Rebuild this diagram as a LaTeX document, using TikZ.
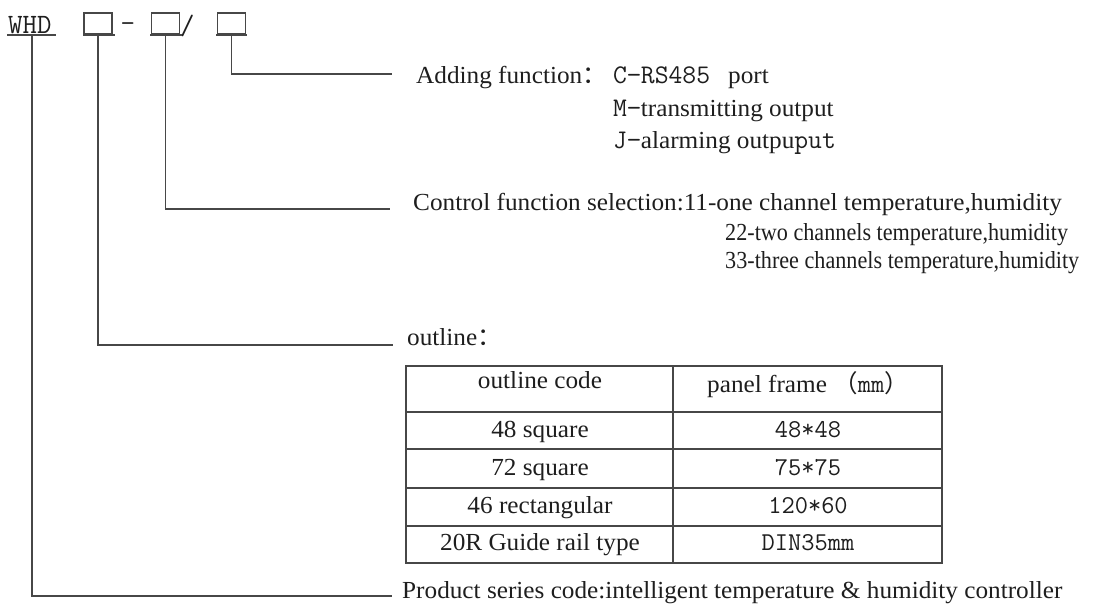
\documentclass[tikz,border=0pt]{standalone}
\usepackage{fontspec}
\setmainfont{Liberation Serif}[FakeStretch=1.03]
\newfontfamily\narrow{Liberation Serif}[FakeStretch=0.905]
\newfontfamily\mono{Latin Modern Mono}
\newfontfamily\cjk{Noto Sans CJK SC}
\definecolor{ink}{HTML}{1E1E1E}
\definecolor{wire}{HTML}{474747}
\begin{document}
\begin{tikzpicture}[x=1pt,y=-1pt,
  txt/.style={anchor=base west,inner sep=0pt,text=ink,font=\fontsize{24.5}{29}\selectfont},
  ntxt/.style={anchor=base west,inner sep=0pt,text=ink,font=\narrow\fontsize{24.5}{29}\selectfont},
  ctxt/.style={anchor=base,inner sep=0pt,text=ink,font=\fontsize{24.5}{29}\selectfont},
  mtxt/.style={anchor=base,inner sep=0pt,text=ink,font=\mono\fontsize{25.7}{29}\selectfont},
  codebox/.style={draw=wire,line width=1.2pt,minimum width=28pt,minimum height=20.5pt,inner sep=0pt},
  wireline/.style={draw=wire,line width=1.3pt},
  grid/.style={draw=wire,line width=1.2pt}]
\useasboundingbox (0,0) rectangle (1103,606);
% code line
\node[txt,font=\mono\fontsize{28}{32}\selectfont] (whd) at (8,33) {WHD};
\node[codebox] (b1) at (98,23.3) {};
\node[codebox] (b2) at (165.5,23.3) {};
\node[codebox] (b3) at (231.5,23.3) {};
\node[txt,font=\mono\fontsize{26}{30}\selectfont] (dash) at (121,31) {−};
\node[txt,font=\mono\fontsize{28}{32}\selectfont] (slash) at (180,34) {/};
\draw[wireline] (7,35) -- (56,35);
\draw[wireline] (83,35) -- (115,35);
\draw[wireline] (150,35) -- (182,35);
\draw[wireline] (216,35) -- (247,35);
\coordinate (wu) at (32,35);
% end points of leaders
\coordinate (e3) at (392,74);
\coordinate (e2) at (390,209);
\coordinate (e1) at (393,345);
\coordinate (e0) at (392,596);
\draw[wireline] (b3.south) |- (e3);
\draw[wireline] (b2.south) |- (e2);
\draw[wireline] (b1.south) |- (e1);
\draw[wireline] (wu) |- (e0);
% adding function
\node[txt] (add) at (416,83) {Adding function\cjk{：}};
\node[txt] (addc) at (613,83) {{\mono\fontsize{26.9}{29}\selectfont C−RS485}};
\node[txt] (addp) at (728,83) {port};
\node[txt] (addm) at (613,116) {{\mono\fontsize{26.9}{29}\selectfont M−}transmitting output};
\node[txt] (addj) at (613,148) {{\mono\fontsize{26.9}{29}\selectfont J−}alarming outpu{\mono\fontsize{26.9}{29}\selectfont put}};
% control function
\node[txt] (ctrl) at (413,210) {Control function selection:11-one channel temperature,humidity};
\node[ntxt] (c22) at (725,240) {22-two channels temperature,humidity};
\node[ntxt] (c33) at (725,268) {33-three channels temperature,humidity};
% outline
\node[txt] (outl) at (407,345) {outline\cjk{：}};
% table
\draw[grid] (406,366) rectangle (942,563);
\draw[grid] (673,366) -- (673,563);
\draw[grid] (406,412) -- (942,412);
\draw[grid] (406,449) -- (942,449);
\draw[grid] (406,488) -- (942,488);
\draw[grid] (406,526) -- (942,526);
\node[ctxt] (h1) at (540,388) {outline code};
\node[ctxt] (h2) at (808,392) {panel frame \cjk{（}{\mono\fontsize{25.7}{28}\selectfont mm}\cjk{）}};
\node[ctxt] (r1a) at (540,437) {48 square};
\node[ctxt] (r2a) at (540,475) {72 square};
\node[ctxt] (r3a) at (540,513) {46 rectangular};
\node[ctxt] (r4a) at (540,550) {20R Guide rail type};
\node[mtxt] (r1b) at (808,437) {48*48};
\node[mtxt] (r2b) at (808,475) {75*75};
\node[mtxt] (r3b) at (808,513) {120*60};
\node[mtxt] (r4b) at (808,550) {DIN35mm};
% product series
\node[txt] (prod) at (402,598) {Product series code:intelligent temperature \& humidity controller};
\end{tikzpicture}
\end{document}
